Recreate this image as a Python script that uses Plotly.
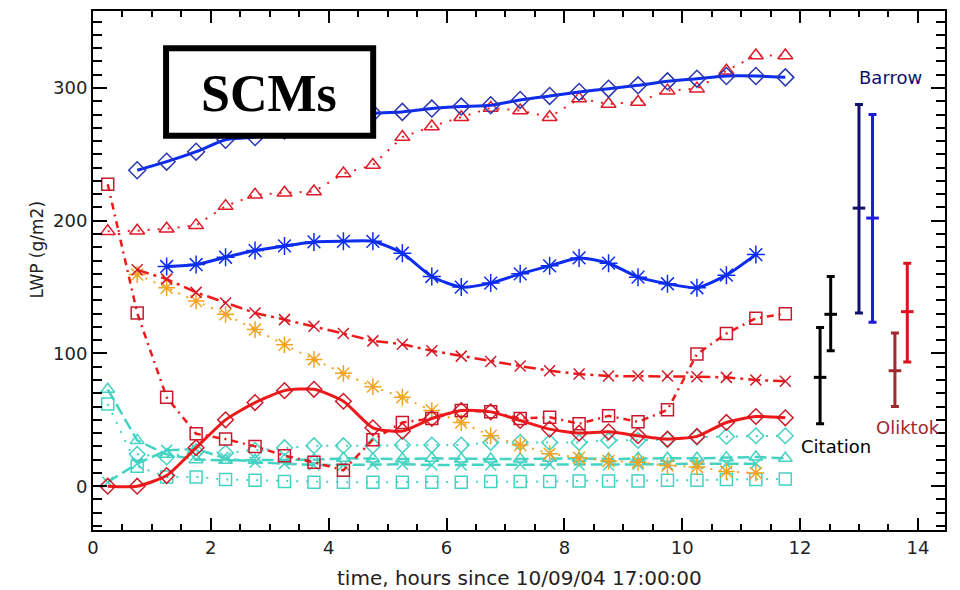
import plotly.graph_objects as go

# ---- model time axes (hours since 10/09/04 17:00:00) ----
t_a = [0.25, 0.75, 1.25, 1.75, 2.25, 2.75, 3.25, 3.75, 4.25, 4.75, 5.25, 5.75,
       6.25, 6.75, 7.25, 7.75, 8.25, 8.75, 9.25, 9.75, 10.25, 10.75, 11.25, 11.75]
t_b = [0.75, 1.25, 1.75, 2.25, 2.75, 3.25, 3.75, 4.25, 4.75, 5.25, 5.75,
       6.25, 6.75, 7.25, 7.75, 8.25, 8.75, 9.25, 9.75, 10.25, 10.75, 11.25, 11.75]
t_c = [1.25, 1.75, 2.25, 2.75, 3.25, 3.75, 4.25, 4.75, 5.25, 5.75,
       6.25, 6.75, 7.25, 7.75, 8.25, 8.75, 9.25, 9.75, 10.25, 10.75, 11.25]
t_d = [0.75, 1.25, 1.75, 2.25, 2.75, 3.25, 3.75, 4.25, 4.75, 5.25, 5.75,
       6.25, 6.75, 7.25, 7.75, 8.25, 8.75, 9.25, 9.75, 10.25, 10.75, 11.25]
t_e = [0.25, 0.75, 1.25, 1.75, 2.25, 2.75, 3.25, 3.75, 4.25, 4.75, 5.25, 5.75,
       6.25, 6.75, 7.25, 7.75, 8.25, 8.75, 9.25, 9.75, 10.25, 10.75, 11.25]

# ---- SCM liquid water path, g/m2 ----
blue_diamond = [238, 244.5, 252, 261, 263, 268, 273, 277, 281, 282, 284.5,
                286, 287, 291, 294, 297, 299.5, 302, 305, 307, 309, 309, 308]
red_triangle = [192, 192.5, 194, 196.5, 211, 219.5, 221, 222, 235.5, 242, 263, 271,
                278, 285, 283, 278, 292, 288, 289.5, 298, 299.5, 313, 324.5, 324.5]
blue_asterisk = [165.5, 167, 172.5, 177.5, 181, 184, 184.5, 184.5, 175.5, 158,
                 150, 153, 160, 166, 172, 168, 157.5, 152.5, 149.5, 159, 174.5]
red_square = [227.5, 130.5, 67, 39.5, 35.5, 30, 23, 18, 12, 35, 48, 51,
              57, 56, 51, 52, 47, 53, 48.5, 57.5, 99.5, 115, 126.5, 130]
red_x = [163, 156, 146, 138, 130.5, 125.5, 120.5, 115, 109.5, 107, 102,
         98, 94, 90.5, 87, 84.5, 83, 83, 83, 82.5, 82, 80, 79]
orange_asterisk = [159.5, 149.5, 139.5, 129.5, 118, 106.5, 95.5, 85, 75, 67, 57,
                   48, 38, 31, 24.5, 21.5, 19, 18, 15.5, 14.5, 11, 10]
red_diamond = [0, 0, 8, 29, 50, 63, 72, 73, 64, 44, 41.5, 51,
               57, 56, 49.5, 43, 40, 41, 38, 35.5, 37.5, 48, 52.5, 51.5]
cyan_triangle = [73, 34.5, 24, 20, 19.5, 19.5, 20, 20, 21, 20.5, 20.5, 21,
                 20.5, 20.5, 20.5, 21, 21, 20.5, 21, 21, 21, 21.5, 22, 21]
cyan_square = [62, 15, 7, 7, 5, 4.5, 3.5, 3, 3, 3, 3, 3,
               3, 3.5, 3.5, 3.5, 4, 4, 4, 4.5, 4.5, 5, 5, 5.5]
cyan_diamond = [24, 22, 26, 25, 27, 29, 30.5, 30.5, 30.5, 31, 31,
                31, 33, 33, 33, 33, 34.5, 34.5, 35, 37, 37.5, 38, 38]
cyan_x = [3, 17, 27, 28, 21, 18, 17, 16, 16, 16.5, 16.5, 16,
          16, 16, 16.5, 16.5, 16, 16, 16.5, 16.5, 17, 17, 17]

# ---- observations: mean and range ----
obs_x = [12.34, 12.52, 13.0, 13.23, 13.61, 13.82]
obs_mid = [82, 129.5, 209.5, 202, 87, 131.5]
obs_lo = [47, 102, 130.5, 123.5, 60, 93.5]
obs_hi = [119.5, 158, 287.5, 280, 115.5, 168]
obs_colors = ["#000000", "#000000", "#10106e", "#1a1ae0", "#a0282e", "#d8141e"]

obs_names = ["Barrow", "Citation", "Oliktok"]
x_ticks = [0, 2, 4, 6, 8, 10, 12, 14]
y_ticks = [0, 100, 200, 300]

BLUE = "#0c2cf0"
RED = "#ee1a1a"
ORANGE = "#f2a322"
CYAN = "#44d2c2"

fig = go.Figure()


def add_series(x, y, color, dash, width, symbol, msize, mcolor=None, shape="linear"):
    fig.add_trace(go.Scatter(
        x=x, y=y, mode="lines+markers",
        line=dict(color=color, width=width, dash=dash, shape=shape, smoothing=0.6),
        marker=dict(symbol=symbol, size=msize, color=mcolor or color,
                    line=dict(color=mcolor or color, width=1.5)),
        hoverinfo="skip",
    ))


# cyan models (drawn first, underneath)
add_series(t_a, cyan_square, CYAN, "2px,8px", 2, "square-open", 12)
add_series(t_b, cyan_diamond, CYAN, "2px,8px", 2, "diamond-open", 12)
add_series(t_e, cyan_x, CYAN, "12px,5px", 2.5, "x-thin-open", 11)
add_series(t_a, cyan_triangle, CYAN, "12px,5px", 2.5, "triangle-up-open", 12)

# orange and red models
add_series(t_d, orange_asterisk, ORANGE, "2px,7px", 2, "asterisk-open", 14)
add_series(t_b, red_x, RED, "12px,5px,3px,5px", 2.5, "x-thin-open", 11, "#d01a28")
add_series(t_a, red_square, RED, "7px,5px,2px,5px", 2.5, "square-open", 12, "#c81a2c")
add_series(t_a, red_triangle, RED, "2px,8px", 2, "triangle-up-open", 13, "#e01a28")
add_series(t_a, red_diamond, RED, "solid", 3, "diamond-open", 12, "#d01a28", "spline")

# blue models
add_series(t_c, blue_asterisk, BLUE, "solid", 3, "asterisk-open", 15, shape="spline")
add_series(t_b, blue_diamond, BLUE, "solid", 3, "diamond-open", 13, "#2a36b0", "spline")

# observation ranges with mean tick
for xo, m, lo, hi, c in zip(obs_x, obs_mid, obs_lo, obs_hi, obs_colors):
    fig.add_trace(go.Scatter(
        x=[xo], y=[m], mode="markers",
        marker=dict(symbol="line-ew-open", size=9, color=c, line=dict(color=c, width=3)),
        error_y=dict(type="data", symmetric=False, array=[hi - m], arrayminus=[m - lo],
                     color=c, thickness=3, width=4),
        hoverinfo="skip",
    ))

label_font = dict(family="DejaVu Sans", size=18)
fig.add_annotation(x=13.54, y=308, text=obs_names[0], showarrow=False,
                   font=dict(label_font, color="#10106e"))
fig.add_annotation(x=12.61, y=30, text=obs_names[1], showarrow=False,
                   font=dict(label_font, color="#000000"))
fig.add_annotation(x=13.83, y=44, text=obs_names[2], showarrow=False,
                   font=dict(label_font, color="#a0282e"))

# SCMs label box
fig.add_shape(type="rect", x0=1.24, x1=4.755, y0=264, y1=330,
              line=dict(color="black", width=6), fillcolor="white", layer="above")
fig.add_annotation(x=2.99, y=296, text="<b>SCMs</b>", showarrow=False,
                   font=dict(family="Liberation Serif", size=52, color="black"))

# axis titles
fig.add_annotation(xref="paper", yref="paper", x=0.5, y=-0.092,
                   text="time, hours since 10/09/04 17:00:00", showarrow=False,
                   font=dict(family="DejaVu Sans", size=20, color="#222"),
                   yanchor="middle")
fig.add_annotation(xref="paper", yref="paper", x=-0.066, y=0.54,
                   text="LWP (g/m2)", textangle=-90, showarrow=False,
                   font=dict(family="DejaVu Sans", size=17, color="#222"),
                   xanchor="center", yanchor="middle")

axis_common = dict(showline=True, linecolor="black", linewidth=2, mirror="ticks",
                   ticks="inside", tickcolor="black", tickwidth=1.5,
                   showgrid=False, zeroline=False,
                   tickfont=dict(family="DejaVu Sans", size=18, color="#222"))

fig.update_xaxes(range=[0, 14.46], tickvals=x_ticks, ticklen=12,
                 minor=dict(dtick=0.5, tick0=0, ticklen=6, ticks="inside",
                            tickcolor="black", tickwidth=1.5, showgrid=False),
                 **axis_common)
fig.update_yaxes(range=[-33, 358], tickvals=y_ticks, ticklen=14,
                 minor=dict(dtick=10, tick0=0, ticklen=9, ticks="inside",
                            tickcolor="black", tickwidth=1.5, showgrid=False),
                 **axis_common)

fig.update_layout(width=960, height=590, showlegend=False,
                  paper_bgcolor="white", plot_bgcolor="white",
                  margin=dict(l=93, r=15, t=9, b=60))

fig.write_html("out.html")
